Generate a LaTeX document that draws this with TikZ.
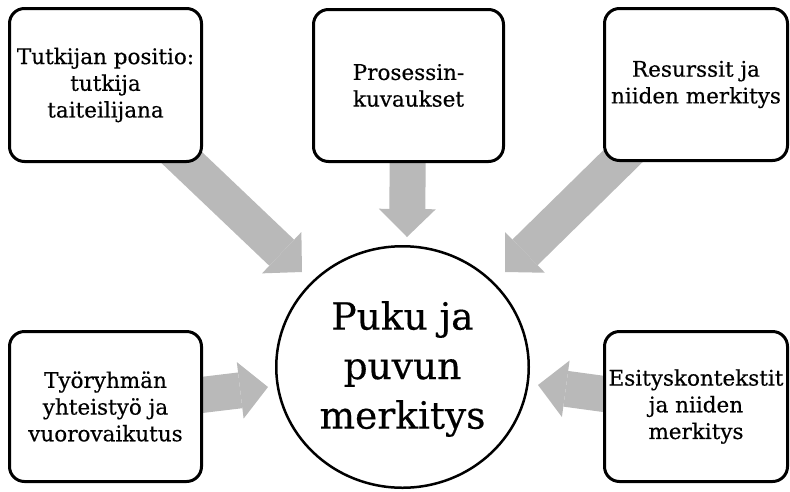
\documentclass[tikz,border=0pt]{standalone}
\usepackage{fontspec}
\setmainfont{DejaVu Serif}[FakeBold=0.4]
\usetikzlibrary{arrows.meta,shapes.geometric,backgrounds}
\definecolor{arrowgray}{RGB}{185,185,185}
\begin{document}
\begin{tikzpicture}[x=1pt,y=-1pt,
  boxnode/.style={draw=black, line width=3pt, rounded corners=15pt, fill=white,
    align=center, inner sep=0pt, font=\fontsize{21.5}{26.7}\selectfont},
  centernode/.style={draw=black, ellipse, line width=2.5pt, fill=white,
    inner sep=0pt},
  centertext/.style={align=center, inner sep=0pt, font=\fontsize{37.5}{49.5}\selectfont},
  bigarrow/.style={draw=arrowgray, line width=36pt,
    -{Triangle[length=28pt 0 0,width=57pt 0 0,line width=0pt 0 0]}}]
\useasboundingbox (0,0) rectangle (790,491);
\node[boxnode, minimum width=192pt, minimum height=153pt] (b1) at (105.5,85) {Tutkijan positio:\\tutkija\\taiteilijana};
\node[boxnode, minimum width=190pt, minimum height=152pt] (b2) at (408.5,85.5) {Prosessin-\\kuvaukset};
\node[boxnode, minimum width=183pt, minimum height=152pt] (b3) at (696,84.5) {Resurssit ja\\niiden merkitys};
\node[boxnode, minimum width=192pt, minimum height=150pt] (b4) at (105.5,406.5) {Työryhmän\\yhteistyö ja\\vuorovaikutus};
\node[boxnode, minimum width=183pt, minimum height=150pt] (b5) at (696,406.5) {Esityskontekstit\\ja niiden\\merkitys};
\node[centernode, minimum width=252.5pt, minimum height=241.5pt] (c) at (402.5,367) {};
\node[centertext] (ct) at (402.5,369) {Puku ja\\puvun\\merkitys};
\coordinate (e1) at (302,272);
\coordinate (e2) at (407,237);
\coordinate (e3) at (505,272);
\coordinate (e4) at (268,387);
\coordinate (e5) at (538,385);
\begin{pgfonlayer}{background}
\draw[bigarrow] (b1.center) -- (e1);
\draw[bigarrow] (b2.center) -- (e2);
\draw[bigarrow] (b3.center) -- (e3);
\draw[bigarrow] (b4.center) -- (e4);
\draw[bigarrow] (b5.center) -- (e5);
\end{pgfonlayer}
\end{tikzpicture}
\end{document}
